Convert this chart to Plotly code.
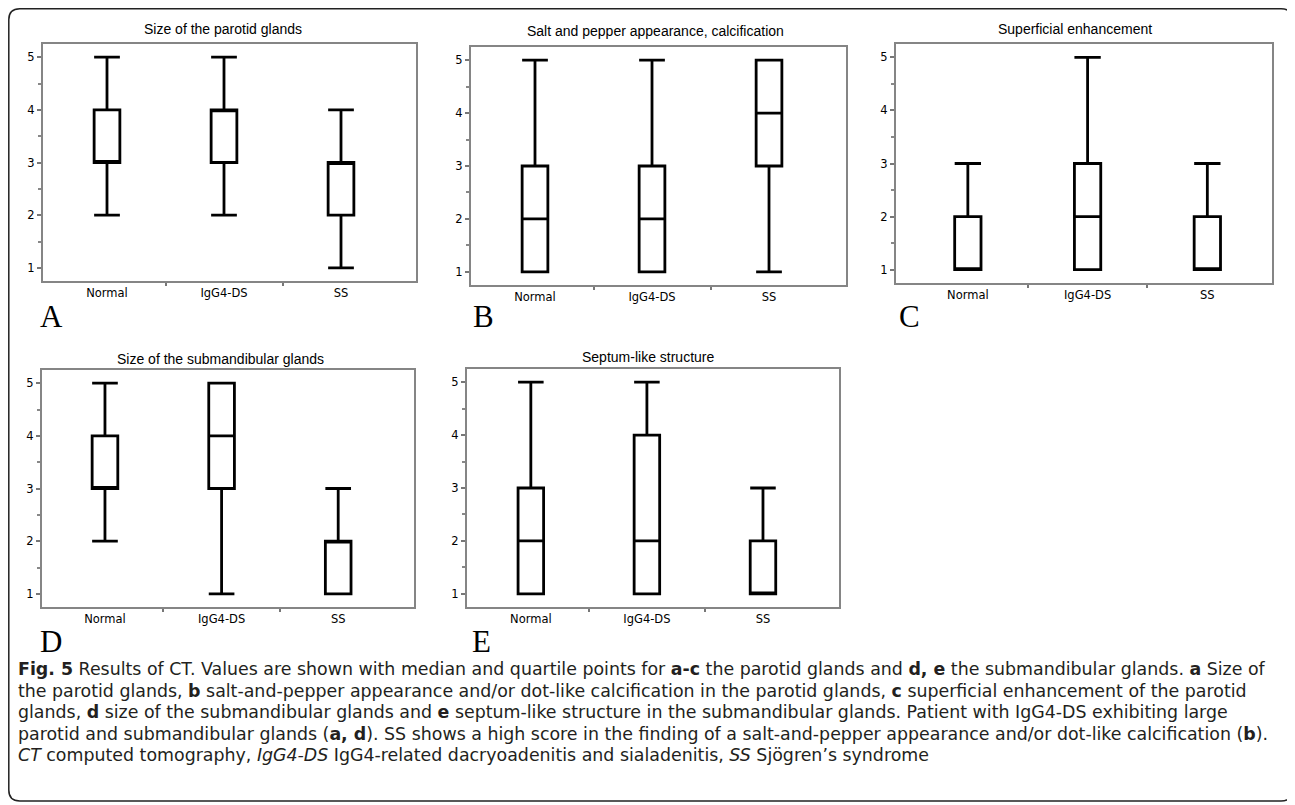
import plotly.graph_objects as go

# target canvas (browser window) and page body margin compensation
W, H = 1295, 805
OFF = 8
FW, FH = W - OFF, H - OFF

CATEGORIES = ["Normal", "IgG4-DS", "SS"]

PANEL_TITLES = [
    "Size of the parotid glands",
    "Salt and pepper appearance, calcification",
    "Superficial enhancement",
    "Size of the submandibular glands",
    "Septum-like structure",
]
PANEL_LETTERS = ["A", "B", "C", "D", "E"]

# box statistics per panel: [Normal, IgG4-DS, SS]
A_min = [2, 2, 1]; A_q1 = [3, 3, 2]; A_med = [3, 4, 3]; A_q3 = [4, 4, 3]; A_max = [5, 5, 4]
B_min = [1, 1, 1]; B_q1 = [1, 1, 3]; B_med = [2, 2, 4]; B_q3 = [3, 3, 5]; B_max = [5, 5, 5]
C_min = [1, 1, 1]; C_q1 = [1, 1, 1]; C_med = [1, 2, 1]; C_q3 = [2, 3, 2]; C_max = [3, 5, 3]
D_min = [2, 1, 1]; D_q1 = [3, 3, 1]; D_med = [3, 4, 2]; D_q3 = [4, 5, 2]; D_max = [5, 5, 3]
E_min = [1, 1, 1]; E_q1 = [1, 1, 1]; E_med = [2, 2, 1]; E_q3 = [3, 4, 2]; E_max = [5, 5, 3]

Y_TICKS = [1, 2, 3, 4, 5]

CAPTION_LINES = [
    "<b>Fig. 5</b> Results of CT. Values are shown with median and quartile points for <b>a-c</b> the parotid glands and <b>d, e</b> the submandibular glands. <b>a</b> Size of",
    "the parotid glands, <b>b</b> salt-and-pepper appearance and/or dot-like calcification in the parotid glands, <b>c</b> superficial enhancement of the parotid",
    "glands, <b>d</b> size of the submandibular glands and <b>e</b> septum-like structure in the submandibular glands. Patient with IgG4-DS exhibiting large",
    "parotid and submandibular glands (<b>a, d</b>). SS shows a high score in the finding of a salt-and-pepper appearance and/or dot-like calcification (<b>b</b>).",
    "<i>CT</i> computed tomography, <i>IgG4-DS</i> IgG4-related dacryoadenitis and sialadenitis, <i>SS</i> Sjögren’s syndrome",
]

stats = [
    (A_min, A_q1, A_med, A_q3, A_max),
    (B_min, B_q1, B_med, B_q3, B_max),
    (C_min, C_q1, C_med, C_q3, C_max),
    (D_min, D_q1, D_med, D_q3, D_max),
    (E_min, E_q1, E_med, E_q3, E_max),
]

# layout geometry (window pixels): frame left, right, top, bottom; x range
frames = [
    (43, 416, 44, 281, [-0.547, 2.641]),
    (471, 846, 47, 285, [-0.547, 2.658]),
    (896, 1272, 44, 283, [-0.60, 2.54]),
    (42, 414, 370, 607, [-0.54, 2.65]),
    (467, 839, 369, 607, [-0.55, 2.655]),
]
title_pos = [(223, 29), (655, 31), (1075, 29), (220, 359), (648, 357)]
letter_pos = [(51, 316), (483, 316), (910, 316), (51, 641), (481, 641)]


def fx(x):
    return (x - OFF) / FW


def fy(y):
    return 1 - (y - OFF) / FH


fig = go.Figure()
FRAME_COLOR = "#858585"

for i, (s, fr) in enumerate(zip(stats, frames)):
    lo, q1, med, q3, hi = s
    n = "" if i == 0 else str(i + 1)
    xs = list(range(len(CATEGORIES)))
    fig.add_trace(go.Box(
        x=xs, q1=q1, median=med, q3=q3, lowerfence=lo, upperfence=hi,
        boxpoints=False, width=0.22, whiskerwidth=1,
        line=dict(color="black", width=2.8), fillcolor="white",
        xaxis="x" + n, yaxis="y" + n, showlegend=False, hoverinfo="skip",
    ))
    l, r, t, b, xr = fr
    fig.layout["xaxis" + n] = dict(
        domain=[fx(l), fx(r)], anchor="y" + n, range=xr,
        tickvals=xs, ticktext=CATEGORIES, ticks="",
        showline=True, mirror=True, linecolor=FRAME_COLOR, linewidth=2,
        showgrid=False, zeroline=False,
        tickfont=dict(family="DejaVu Sans", size=11.5, color="black"),
        minor=dict(tickvals=[0.5, 1.5], ticks="outside", ticklen=3,
                   tickcolor="#777", tickwidth=1.5, showgrid=False),
    )
    fig.layout["yaxis" + n] = dict(
        domain=[fy(b), fy(t)], anchor="x" + n, range=[0.75, 5.25],
        tickvals=Y_TICKS, ticks="outside", ticklen=4, tickwidth=1.5,
        tickcolor="#777",
        showline=True, mirror=True, linecolor=FRAME_COLOR, linewidth=2,
        showgrid=False, zeroline=False,
        tickfont=dict(family="DejaVu Sans", size=11.5, color="black"),
        minor=dict(dtick=0.5, ticks="outside", ticklen=3, tickcolor="#888",
                   tickwidth=1.5, showgrid=False),
    )

annotations = []
for (tx, ty), title in zip(title_pos, PANEL_TITLES):
    annotations.append(dict(
        x=fx(tx), y=fy(ty), xref="paper", yref="paper", text=title,
        showarrow=False, xanchor="center", yanchor="middle",
        font=dict(family="Liberation Sans", size=14, color="black"),
    ))
for (lx, ly), letter in zip(letter_pos, PANEL_LETTERS):
    annotations.append(dict(
        x=fx(lx), y=fy(ly), xref="paper", yref="paper", text=letter,
        showarrow=False, xanchor="center", yanchor="middle",
        font=dict(family="Liberation Serif", size=31, color="black"),
    ))
line_y0, line_dy = 669, 21.5
for k, line in enumerate(CAPTION_LINES):
    annotations.append(dict(
        x=fx(17), y=fy(line_y0 + k * line_dy), xref="paper", yref="paper",
        text=line, showarrow=False, xanchor="left", yanchor="middle",
        borderpad=0,
        font=dict(family="DejaVu Sans", size=17.4, color="#231f20"),
    ))

# outer rounded frame
L, T, R, B, rad = 8.8, 8.8, 1292, 801, 11
path = (
    f"M {fx(L + rad)},{fy(T)} L {fx(R - rad)},{fy(T)} "
    f"Q {fx(R)},{fy(T)} {fx(R)},{fy(T + rad)} L {fx(R)},{fy(B - rad)} "
    f"Q {fx(R)},{fy(B)} {fx(R - rad)},{fy(B)} L {fx(L + rad)},{fy(B)} "
    f"Q {fx(L)},{fy(B)} {fx(L)},{fy(B - rad)} L {fx(L)},{fy(T + rad)} "
    f"Q {fx(L)},{fy(T)} {fx(L + rad)},{fy(T)} Z"
)
shapes = [dict(type="path", path=path, xref="paper", yref="paper",
               line=dict(color="#222", width=1.5), layer="below")]

fig.update_layout(
    width=FW, height=FH, margin=dict(l=0, r=0, t=0, b=0),
    paper_bgcolor="white", plot_bgcolor="white",
    annotations=annotations, shapes=shapes, showlegend=False,
)

fig.write_html("out.html")
